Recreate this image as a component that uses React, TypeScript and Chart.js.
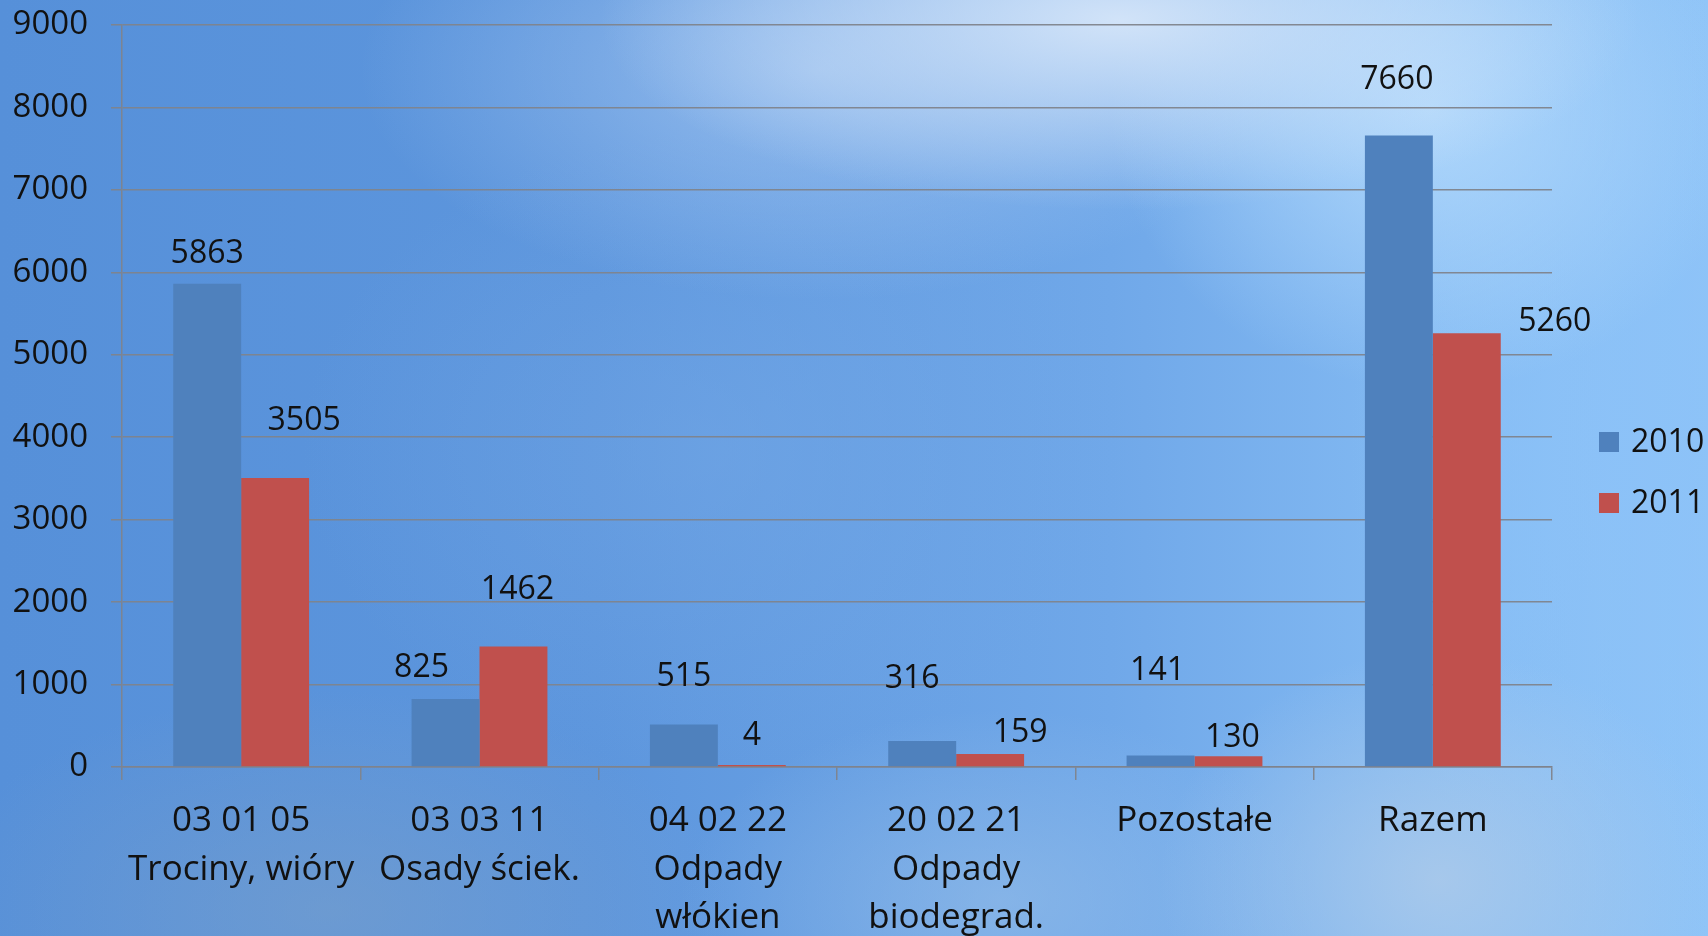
import React, { useEffect, useRef } from "react";
import { Chart, registerables } from "chart.js";

Chart.register(...registerables);

// Waste categories (code + short description), one entry per group
const categories: string[][] = [
  ["03 01 05", "Trociny, wióry"],
  ["03 03 11", "Osady ściek."],
  ["04 02 22", "Odpady", "włókien"],
  ["20 02 21", "Odpady", "biodegrad."],
  ["Pozostałe"],
  ["Razem"],
];

const seriesNames = ["2010", "2011"];
const values2010 = [5863, 825, 515, 316, 141, 7660];
const values2011 = [3505, 1462, 4, 159, 130, 5260];

const yTicks = [0, 1000, 2000, 3000, 4000, 5000, 6000, 7000, 8000, 9000];

// Hand-placed nudges for the value labels, in pixels from the bar top centre
const labelNudge2010: [number, number][] = [
  [0, -30], [-24, -31], [0, -48], [-10, -62], [-3, -84], [-2, -56],
];
const labelNudge2011: [number, number][] = [
  [29, -57], [4, -57], [0, -29], [30, -21], [4, -18], [88, -11],
];

const BLUE = "#4f81bd";
const RED = "#c0504d";
const GRID = "rgba(128,132,140,0.95)";
const FONT = "'Open Sans', sans-serif";

const valueLabels = {
  id: "valueLabels",
  afterDatasetsDraw(chart: any) {
    const ctx = chart.ctx;
    const nudges = [labelNudge2010, labelNudge2011];
    ctx.save();
    ctx.font = `32px ${FONT}`;
    ctx.fillStyle = "#111";
    ctx.textAlign = "center";
    ctx.textBaseline = "middle";
    chart.data.datasets.forEach((ds: any, di: number) => {
      const meta = chart.getDatasetMeta(di);
      meta.data.forEach((bar: any, i: number) => {
        const [dx, dy] = nudges[di][i];
        ctx.fillText(String(ds.data[i]), bar.x + dx, bar.y + dy);
      });
    });
    ctx.restore();
  },
};

const sideLegend = {
  id: "sideLegend",
  afterDraw(chart: any) {
    const ctx = chart.ctx;
    const area = chart.chartArea;
    ctx.save();
    ctx.font = `32px ${FONT}`;
    ctx.textAlign = "left";
    ctx.textBaseline = "middle";
    chart.data.datasets.forEach((ds: any, i: number) => {
      const cy = area.top + 417 + i * 61;
      const x = area.right + 47;
      ctx.fillStyle = ds.backgroundColor;
      ctx.fillRect(x, cy - 10, 20, 20);
      ctx.fillStyle = "#111";
      ctx.fillText(ds.label, x + 32, cy + 1);
    });
    ctx.restore();
  },
};

export default function App() {
  const canvasRef = useRef<HTMLCanvasElement | null>(null);

  useEffect(() => {
    if (!canvasRef.current) return;
    const chart = new Chart(canvasRef.current, {
      type: "bar",
      data: {
        labels: categories,
        datasets: [
          {
            label: seriesNames[0],
            data: values2010,
            backgroundColor: BLUE,
            categoryPercentage: 0.57,
            barPercentage: 1,
          },
          {
            label: seriesNames[1],
            data: values2011,
            backgroundColor: RED,
            categoryPercentage: 0.57,
            barPercentage: 1,
            minBarLength: 2,
          },
        ],
      },
      options: {
        responsive: false,
        animation: false,
        layout: { padding: { top: 25, right: 156, left: 0, bottom: 0 } },
        plugins: {
          legend: { display: false },
          tooltip: { enabled: false },
        },
        scales: {
          x: {
            grid: {
              display: true,
              drawOnChartArea: false,
              drawTicks: true,
              tickLength: 13,
              color: GRID,
              lineWidth: 1.5,
              offset: true,
            },
            border: { display: true, color: GRID, width: 1.5 },
            ticks: {
              color: "#111",
              font: { family: FONT, size: 35, lineHeight: 1.386 },
              padding: 17,
              maxRotation: 0,
              autoSkip: false,
            },
            afterFit(scale: any) {
              scale.height = 169;
              scale.paddingLeft = 0;
              scale.paddingRight = 0;
            },
          },
          y: {
            min: 0,
            max: 9000,
            afterBuildTicks(scale: any) {
              scale.ticks = yTicks.map((v) => ({ value: v }));
            },
            grid: {
              color: GRID,
              lineWidth: 1.5,
              tickLength: 11,
              drawTicks: true,
            },
            border: { display: true, color: GRID, width: 1.5 },
            ticks: {
              color: "#111",
              font: { family: FONT, size: 33 },
              padding: 23,
              callback: (v: any) => String(v),
            },
            afterFit(scale: any) {
              scale.width = 122;
              scale.paddingTop = 0;
              scale.paddingBottom = 0;
            },
          },
        },
      },
      plugins: [valueLabels, sideLegend],
    });
    return () => chart.destroy();
  }, []);

  const sky = [
    "radial-gradient(ellipse 520px 190px at 1120px 20px, rgba(214,230,249,0.95), rgba(214,230,249,0) 100%)",
    "radial-gradient(ellipse 320px 280px at 1430px 110px, rgba(180,218,252,0.9), rgba(180,218,252,0) 100%)",
    "radial-gradient(ellipse 460px 230px at 820px 70px, rgba(170,202,242,0.7), rgba(170,202,242,0) 100%)",
    "radial-gradient(ellipse 280px 230px at 1440px 880px, rgba(172,202,234,0.85), rgba(172,202,234,0) 100%)",
    "radial-gradient(ellipse 320px 190px at 1000px 900px, rgba(150,190,232,0.6), rgba(150,190,232,0) 100%)",
    "radial-gradient(ellipse 400px 220px at 330px 910px, rgba(118,158,204,0.65), rgba(118,158,204,0) 100%)",
    "radial-gradient(ellipse 420px 320px at 720px 450px, rgba(116,168,230,0.5), rgba(116,168,230,0) 100%)",
    "radial-gradient(ellipse 300px 500px at 1650px 450px, rgba(140,194,248,0.8), rgba(140,194,248,0) 100%)",
    "linear-gradient(90deg, #5690d9 0%, #5d96dd 35%, #70a8e9 65%, #84bbf3 85%, #8fc4f7 100%)",
  ].join(", ");

  return (
    <div
      style={{
        position: "fixed",
        left: 0,
        top: 0,
        width: 1708,
        height: 936,
        overflow: "hidden",
        background: sky,
      }}
    >
      <canvas ref={canvasRef} width={1708} height={936} style={{ display: "block" }} />
    </div>
  );
}
